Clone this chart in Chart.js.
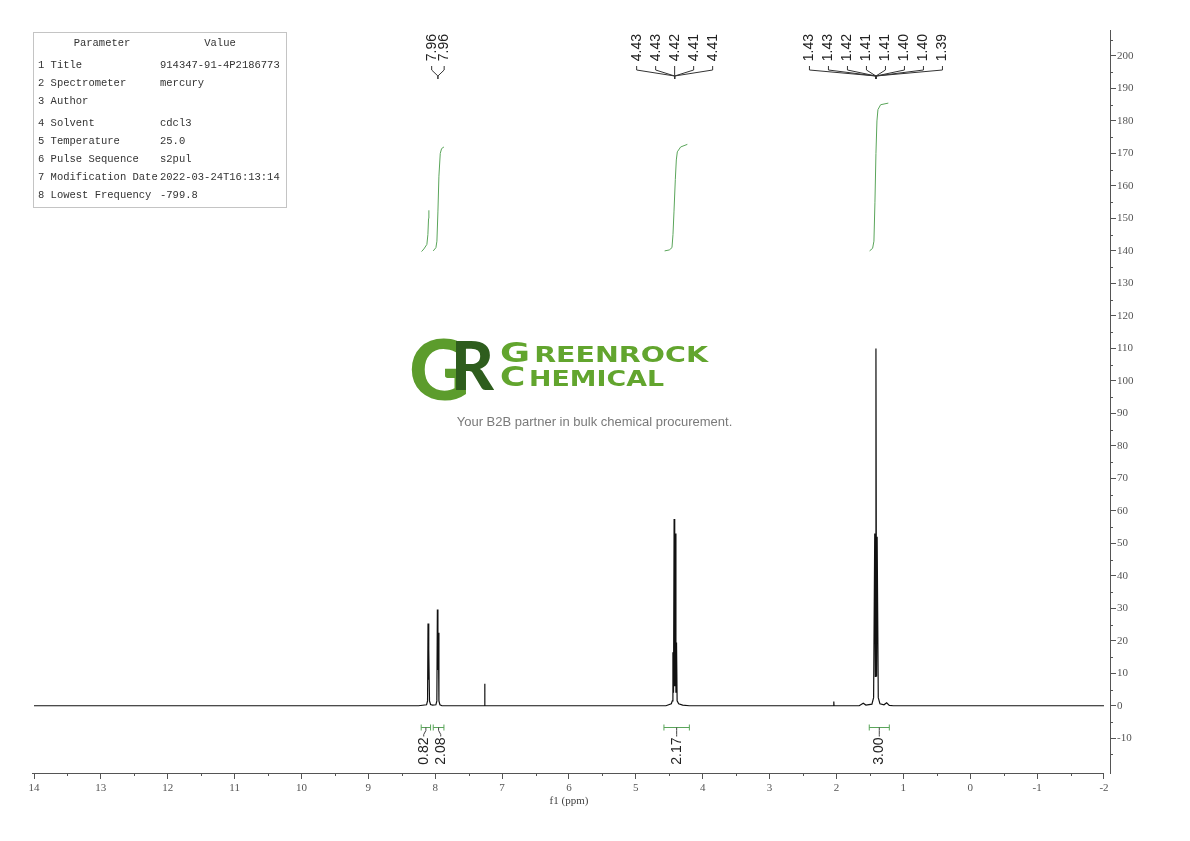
<!DOCTYPE html>
<html>
<head>
<meta charset="utf-8">
<script src="https://cdn.jsdelivr.net/npm/chart.js@4.4.0/dist/chart.umd.min.js"></script>
<style>
  body { margin: 0; background: #fff; }
  #nmr { display: block; }
</style>
</head>
<body>
<canvas id="nmr" width="1190" height="841"></canvas>
<script>
// Espectro 1H (ppm x intensidade)
const specPpm = [14, 8.25, 8.13, 8.115, 8.108, 8.100, 8.094, 8.086, 8.070, 8.04,
  7.99, 7.976, 7.968, 7.960, 7.953, 7.945, 7.93, 7.90,
  7.263, 7.260, 7.257,
  4.55, 4.47, 4.455, 4.446, 4.437, 4.428, 4.419, 4.410, 4.401, 4.392, 4.383, 4.36, 4.30, 4.20,
  2.06, 2.043, 2.040, 2.037,
  1.66, 1.60, 1.56, 1.47, 1.445, 1.428, 1.419, 1.410, 1.401, 1.392, 1.375, 1.35, 1.29, 1.25, 1.21, 1.15, -2];
const specInt = [0, 0, 0.3, 1.5, 25.3, 8, 17.3, 1.5, 0.4, 0.2,
  0.3, 1.5, 29.6, 11, 22.5, 1.5, 0.3, 0,
  0, 6.8, 0,
  0, 0.6, 1.5, 16.5, 4, 57.5, 6, 53, 4, 19.5, 1.5, 0.6, 0.2, 0,
  0, 0, 1.3, 0,
  0, 0.8, 0.2, 0.5, 2.5, 53, 9, 110, 9, 52, 2.5, 0.6, 0.3, 0.9, 0.1, 0, 0];

// Curvas de integral (verde)
const int1Ppm = [8.205, 8.17, 8.125, 8.11, 8.10, 8.095];
const int1Val = [139.8, 140.6, 142, 145, 150, 152.5];
const int2Ppm = [8.03, 7.99, 7.975, 7.96, 7.945, 7.925, 7.905, 7.87];
const int2Val = [140, 141, 143, 152, 163, 170, 171.5, 172];
const int3Ppm = [4.57, 4.50, 4.46, 4.445, 4.43, 4.41, 4.395, 4.38, 4.33, 4.23];
const int3Val = [140, 140.3, 141, 145, 152, 162, 168, 170.5, 172, 172.8];
const int4Ppm = [1.505, 1.46, 1.44, 1.425, 1.41, 1.395, 1.38, 1.34, 1.225];
const int4Val = [140, 140.8, 143, 155, 170, 180, 183.5, 185, 185.5];

// Rótulos de integração
const integralFrom = [8.21, 8.03, 4.58, 1.51];
const integralTo = [8.07, 7.87, 4.20, 1.21];
const integralText = ['0.82', '2.08', '2.17', '3.00'];

// Rótulos dos picos
const peakGroupPpm = [7.96, 4.42, 1.41];
const peakGroupLabels = [
  ['7.96', '7.96'],
  ['4.43', '4.43', '4.42', '4.41', '4.41'],
  ['1.43', '1.43', '1.42', '1.41', '1.41', '1.40', '1.40', '1.39']
];

// Eixos
const xTickValues = [14, 13, 12, 11, 10, 9, 8, 7, 6, 5, 4, 3, 2, 1, 0, -1, -2];
const xMinorValues = [13.5, 12.5, 11.5, 10.5, 9.5, 8.5, 7.5, 6.5, 5.5, 4.5, 3.5, 2.5, 1.5, 0.5, -0.5, -1.5];
const yTickValues = [-10, 0, 10, 20, 30, 40, 50, 60, 70, 80, 90, 100, 110, 120, 130, 140, 150, 160, 170, 180, 190, 200];
const yMinorValues = [-15, -5, 5, 15, 25, 35, 45, 55, 65, 75, 85, 95, 105, 115, 125, 135, 145, 155, 165, 175, 185, 195, 205];

// Tabela de parâmetros
const paramNames = ['1 Title', '2 Spectrometer', '3 Author', '4 Solvent', '5 Temperature',
  '6 Pulse Sequence', '7 Modification Date', '8 Lowest Frequency'];
const paramValues = ['914347-91-4P2186773', 'mercury', '', 'cdcl3', '25.0',
  's2pul', '2022-03-24T16:13:14', '-799.8'];

// layout / estilos
const peakLabelGap = [12.5, 19, 19];
const paramRowY = [65, 83, 101, 123, 141, 159, 177, 195];
const green = '#5aa55a';
const axisColor = '#555';
const serif = '"Liberation Serif", "DejaVu Serif", serif';
const sans = '"Liberation Sans", Arial, sans-serif';

function pts(xs, ys) {
  return xs.map((x, i) => ({ x: x, y: ys[i] }));
}

function rotText(ctx, txt, x, yTop) {
  ctx.save();
  ctx.translate(x, yTop);
  ctx.rotate(-Math.PI / 2);
  ctx.textAlign = 'right';
  ctx.textBaseline = 'middle';
  ctx.fillText(txt, 0, 0);
  ctx.restore();
}

const decor = {
  id: 'decor',
  afterDraw(chart) {
    const ctx = chart.ctx;
    const xs = chart.scales.x;
    const ys = chart.scales.y;
    const area = chart.chartArea;
    ctx.save();

    // linha do eixo x (14 .. -2)
    ctx.strokeStyle = axisColor;
    ctx.lineWidth = 1;
    ctx.beginPath();
    ctx.moveTo(xs.getPixelForValue(14) - 2, area.bottom + 0.5);
    ctx.lineTo(xs.getPixelForValue(-2), area.bottom + 0.5);
    ctx.stroke();

    // ticks menores
    ctx.beginPath();
    xMinorValues.forEach(v => {
      const px = Math.round(xs.getPixelForValue(v)) + 0.5;
      ctx.moveTo(px, area.bottom);
      ctx.lineTo(px, area.bottom + 3);
    });
    yMinorValues.forEach(v => {
      const py = Math.round(ys.getPixelForValue(v)) + 0.5;
      ctx.moveTo(area.right, py);
      ctx.lineTo(area.right + 3, py);
    });
    ctx.stroke();

    // título do eixo
    ctx.fillStyle = '#444';
    ctx.font = '11px ' + serif;
    ctx.textAlign = 'center';
    ctx.textBaseline = 'middle';
    ctx.fillText('f1 (ppm)', xs.getPixelForValue(6), area.bottom + 28);

    // rótulos dos picos
    ctx.font = '14px ' + sans;
    ctx.fillStyle = '#222';
    ctx.strokeStyle = '#333';
    const top = area.top + 4;
    peakGroupPpm.forEach((ppm, g) => {
      const labels = peakGroupLabels[g];
      const cx = xs.getPixelForValue(ppm);
      ctx.beginPath();
      labels.forEach((txt, i) => {
        const lx = cx + (i - (labels.length - 1) / 2) * peakLabelGap[g];
        rotText(ctx, txt, lx, top);
        ctx.moveTo(lx, top + 32);
        ctx.lineTo(lx, top + 36);
        ctx.lineTo(cx, top + 42);
        ctx.lineTo(cx, top + 45);
      });
      ctx.stroke();
    });

    // integrais
    const brY = Math.round(ys.getPixelForValue(-6.5)) + 0.5;
    const centers = integralFrom.map((a, i) => (xs.getPixelForValue(a) + xs.getPixelForValue(integralTo[i])) / 2);
    const textX = centers.slice();
    for (let i = 1; i < textX.length; i++) {
      if (textX[i] - textX[i - 1] < 17) {
        const m = (textX[i] + textX[i - 1]) / 2;
        textX[i - 1] = m - 8.5;
        textX[i] = m + 8.5;
      }
    }
    integralText.forEach((txt, i) => {
      const x1 = xs.getPixelForValue(integralFrom[i]);
      const x2 = xs.getPixelForValue(integralTo[i]);
      ctx.strokeStyle = green;
      ctx.beginPath();
      ctx.moveTo(x1, brY); ctx.lineTo(x2, brY);
      ctx.moveTo(x1, brY - 3); ctx.lineTo(x1, brY + 3);
      ctx.moveTo(x2, brY - 3); ctx.lineTo(x2, brY + 3);
      ctx.stroke();
      ctx.strokeStyle = '#444';
      ctx.beginPath();
      ctx.moveTo(centers[i], brY);
      ctx.lineTo(centers[i], brY + 3);
      ctx.lineTo(textX[i], brY + 7);
      ctx.lineTo(textX[i], brY + 9);
      ctx.stroke();
      ctx.fillStyle = '#222';
      rotText(ctx, txt, textX[i], brY + 10);
    });

    // tabela de parâmetros
    ctx.strokeStyle = '#c4c4c4';
    ctx.strokeRect(33.5, 32.5, 253, 175);
    ctx.fillStyle = '#333';
    ctx.font = '10.5px "Liberation Mono", monospace';
    ctx.textBaseline = 'middle';
    ctx.textAlign = 'center';
    ctx.fillText('Parameter', 102, 43);
    ctx.fillText('Value', 220, 43);
    ctx.textAlign = 'left';
    paramNames.forEach((n, i) => {
      ctx.fillText(n, 38, paramRowY[i]);
      ctx.fillText(paramValues[i], 160, paramRowY[i]);
    });

    // logotipo (marca d'água)
    ctx.textBaseline = 'alphabetic';
    ctx.textAlign = 'left';
    ctx.fillStyle = '#5c9c2c';
    ctx.font = '900 84px Lato, Roboto, sans-serif';
    ctx.fillText('G', 409, 400);
    ctx.fillStyle = '#2e5d1d';
    ctx.font = '900 66px Lato, Roboto, sans-serif';
    ctx.fillText('R', 451, 390);

    function logoWord(first, rest, x, base, width) {
      ctx.save();
      ctx.font = 'bold 27px "DejaVu Sans", sans-serif';
      const w1 = ctx.measureText(first).width;
      ctx.font = 'bold 21px "DejaVu Sans", sans-serif';
      const w2 = ctx.measureText(rest).width;
      ctx.translate(x, base);
      ctx.scale(width / (w1 + w2 + 3), 1);
      ctx.font = 'bold 27px "DejaVu Sans", sans-serif';
      ctx.fillText(first, 0, 0);
      ctx.font = 'bold 21px "DejaVu Sans", sans-serif';
      ctx.fillText(rest, w1 + 3, 0);
      ctx.restore();
    }
    ctx.fillStyle = '#62a52e';
    logoWord('G', 'REENROCK', 500, 362, 208);
    logoWord('C', 'HEMICAL', 500, 386, 164);

    ctx.fillStyle = '#7a7a7a';
    ctx.font = '13px ' + sans;
    ctx.textAlign = 'center';
    ctx.fillText('Your B2B partner in bulk chemical procurement.', 594.5, 426);

    ctx.restore();
  }
};

const lineDefaults = { pointRadius: 0, borderWidth: 1, tension: 0, fill: false };

new Chart(document.getElementById('nmr'), {
  type: 'line',
  data: {
    datasets: [
      Object.assign({ data: pts(specPpm, specInt), borderColor: '#111', borderWidth: 1.2 }, { pointRadius: 0, tension: 0, fill: false }),
      Object.assign({ data: pts(int1Ppm, int1Val), borderColor: green }, lineDefaults),
      Object.assign({ data: pts(int2Ppm, int2Val), borderColor: green }, lineDefaults),
      Object.assign({ data: pts(int3Ppm, int3Val), borderColor: green }, lineDefaults),
      Object.assign({ data: pts(int4Ppm, int4Val), borderColor: green }, lineDefaults)
    ]
  },
  options: {
    responsive: false,
    animation: false,
    devicePixelRatio: 1,
    layout: { padding: { left: 34, top: 30, right: 0, bottom: 0 } },
    plugins: { legend: { display: false }, tooltip: { enabled: false } },
    scales: {
      x: {
        type: 'linear',
        reverse: true,
        min: -2.09,
        max: 14,
        position: 'bottom',
        afterBuildTicks: s => { s.ticks = xTickValues.map(v => ({ value: v })); },
        afterFit: s => { s.height = 68; },
        border: { display: false },
        grid: { drawOnChartArea: false, tickLength: 6, color: axisColor },
        ticks: {
          autoSkip: false, maxRotation: 0, padding: 3, color: '#555',
          font: { family: serif, size: 11 },
          callback: v => String(v)
        }
      },
      y: {
        type: 'linear',
        position: 'right',
        min: -20.7,
        max: 208,
        afterBuildTicks: s => { s.ticks = yTickValues.map(v => ({ value: v })); },
        afterFit: s => { s.width = 80; },
        border: { display: true, color: axisColor, width: 1 },
        grid: { drawOnChartArea: false, tickLength: 6, color: axisColor },
        ticks: {
          autoSkip: false, padding: 1, color: '#555',
          font: { family: serif, size: 11 },
          callback: v => String(v)
        }
      }
    }
  },
  plugins: [decor]
});
</script>
</body>
</html>
